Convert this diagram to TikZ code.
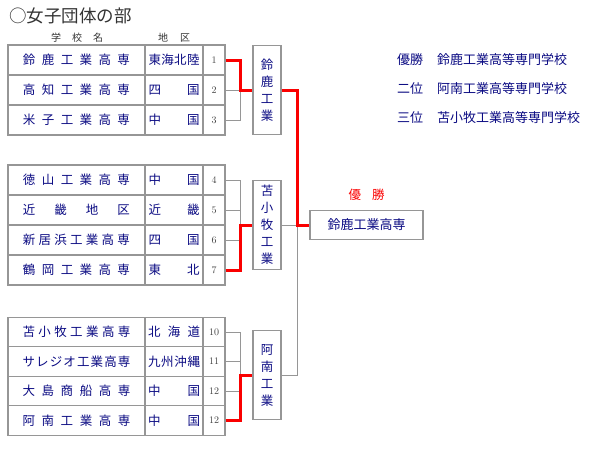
\documentclass[tikz,border=0pt]{standalone}
\usepackage{fontspec}
\newfontfamily\jp{Noto Sans CJK JP}
\usetikzlibrary{positioning}
\definecolor{navy}{RGB}{10,10,130}
\definecolor{linegray}{RGB}{150,150,150}
\definecolor{wingred}{RGB}{250,0,0}

% spread the characters of #2 over the width #1
\def\sprdA#1{\ifx\relax#1\else\hfill#1\expandafter\sprdA\fi}
\def\sprdFirst#1{#1\sprdA}
\newcommand\sprd[2]{\makebox[#1][s]{\expandafter\sprdFirst#2\relax}}

\tikzset{
  cell/.style={draw=linegray, line width=1.2pt, inner sep=0pt, minimum height=30pt,
    font=\jp\fontsize{12.5}{13}\selectfont, text=navy},
  schoolcell/.style={cell, minimum width=137pt},
  regioncell/.style={cell, minimum width=58pt},
  numcell/.style={cell, minimum width=22pt, font=\fontsize{10}{11}\selectfont, text=black!75},
  teambox/.style={draw=linegray, line width=1.2pt, inner sep=0pt, minimum width=28pt,
    minimum height=89pt, align=center, text=navy,
    font=\jp\fontsize{12.5}{17}\selectfont},
  bracket/.style={draw=linegray, line width=1pt},
  win/.style={draw=wingred, line width=3pt},
  result/.style={anchor=west, inner sep=0pt, text=navy, font=\jp\fontsize{13}{13}\selectfont}
}

\begin{document}
\begin{tikzpicture}[x=1pt, y=-1pt]
  \useasboundingbox (0,0) rectangle (600,450);

  % title and column heads
  \node[anchor=west, inner sep=0pt, text=black!80, font=\jp\fontsize{17.5}{18}\selectfont] (title) at (9,16) {○女子団体の部};
  \node[inner sep=0pt, text=black!80, font=\jp\fontsize{10}{10}\selectfont] (headschool) at (77,38) {\sprd{52pt}{学校名}};
  \node[inner sep=0pt, text=black!80, font=\jp\fontsize{10}{10}\selectfont] (headregion) at (174,38) {\sprd{32pt}{地区}};

  % block 1
  \foreach \k/\y/\sch/\reg/\num in {1/60/鈴鹿工業高専/東海北陸/1, 2/90/高知工業高専/四国/2, 3/120/米子工業高専/中国/3} {
    \node[schoolcell] (s\k) at (76.5,\y) {\sprd{107pt}{\sch}};
    \node[regioncell] (r\k) at (174,\y) {\sprd{51pt}{\reg}};
    \node[numcell] (n\k) at (214,\y) {\num};
  }
  % block 2
  \foreach \k/\y/\sch/\reg/\num in {4/180/徳山工業高専/中国/4, 5/210/近畿地区/近畿/5, 6/240/新居浜工業高専/四国/6, 7/270/鶴岡工業高専/東北/7} {
    \node[schoolcell] (s\k) at (76.5,\y) {\sprd{107pt}{\sch}};
    \node[regioncell] (r\k) at (174,\y) {\sprd{51pt}{\reg}};
    \node[numcell] (n\k) at (214,\y) {\num};
  }
  % block 3
  \foreach \k/\y/\sch/\reg/\num in {8/332/苫小牧工業高専/北海道/10, 9/361.5/サレジオ工業高専/九州沖縄/11, 10/391/大島商船高専/中国/12, 11/420.5/阿南工業高専/中国/12} {
    \node[schoolcell, minimum height=29.5pt] (s\k) at (76.5,\y) {\sprd{108pt}{\sch}};
    \node[regioncell, minimum height=29.5pt] (r\k) at (174,\y) {\sprd{52pt}{\reg}};
    \node[numcell, minimum height=29.5pt] (n\k) at (214,\y) {\num};
  }

  % block winners and final
  \node[teambox] (suzuka) at (267,90) {鈴\\鹿\\工\\業};
  \node[teambox] (tomako) at (267,225) {苫\\小\\牧\\工\\業};
  \node[teambox] (anan) at (267,375) {阿\\南\\工\\業};
  \node[draw=linegray, line width=1.2pt, inner sep=0pt, minimum width=113pt, minimum height=29pt,
    text=navy, font=\jp\fontsize{13}{13}\selectfont] (final) at (366.5,225) {鈴鹿工業高専};
  \node[inner sep=0pt, text=wingred, font=\jp\fontsize{12.5}{13}\selectfont, above=9pt of final] (champ) {優\hspace{11pt}勝};

  \coordinate (j1) at (240,90);
  \coordinate (j2) at (240,225);
  \coordinate (j3) at (240,375);
  \coordinate (jf) at (297,225);

  % losing lines
  \draw[bracket] (n2.east) -- (j1);
  \draw[bracket] (n3.east) -| (j1);
  \draw[bracket] (n4.east) -| (j2);
  \draw[bracket] (n5.east) -| (j2);
  \draw[bracket] (n6.east) -| (j2);
  \draw[bracket] (n8.east) -| (j3);
  \draw[bracket] (n9.east) -| (j3);
  \draw[bracket] (n10.east) -| (j3);
  \draw[bracket] (tomako.east) -- (jf);
  \draw[bracket] (anan.east) -| (jf);

  % winning lines
  \draw[win] (n1.east) -| (j1) -- (suzuka.west);
  \draw[win] (n7.east) -| (j2) -- (tomako.west);
  \draw[win] (n11.east) -| (j3) -- (anan.west);
  \draw[win] (suzuka.east) -| (jf) -- (final.west);

  % results
  \node[result] (firstlab) at (397,60) {優勝};
  \node[result] (firstname) at (437,60) {鈴鹿工業高等専門学校};
  \node[result] (secondlab) at (397,89) {二位};
  \node[result] (secondname) at (437,89) {阿南工業高等専門学校};
  \node[result] (thirdlab) at (397,118) {三位};
  \node[result] (thirdname) at (437,118) {苫小牧工業高等専門学校};
\end{tikzpicture}
\end{document}
